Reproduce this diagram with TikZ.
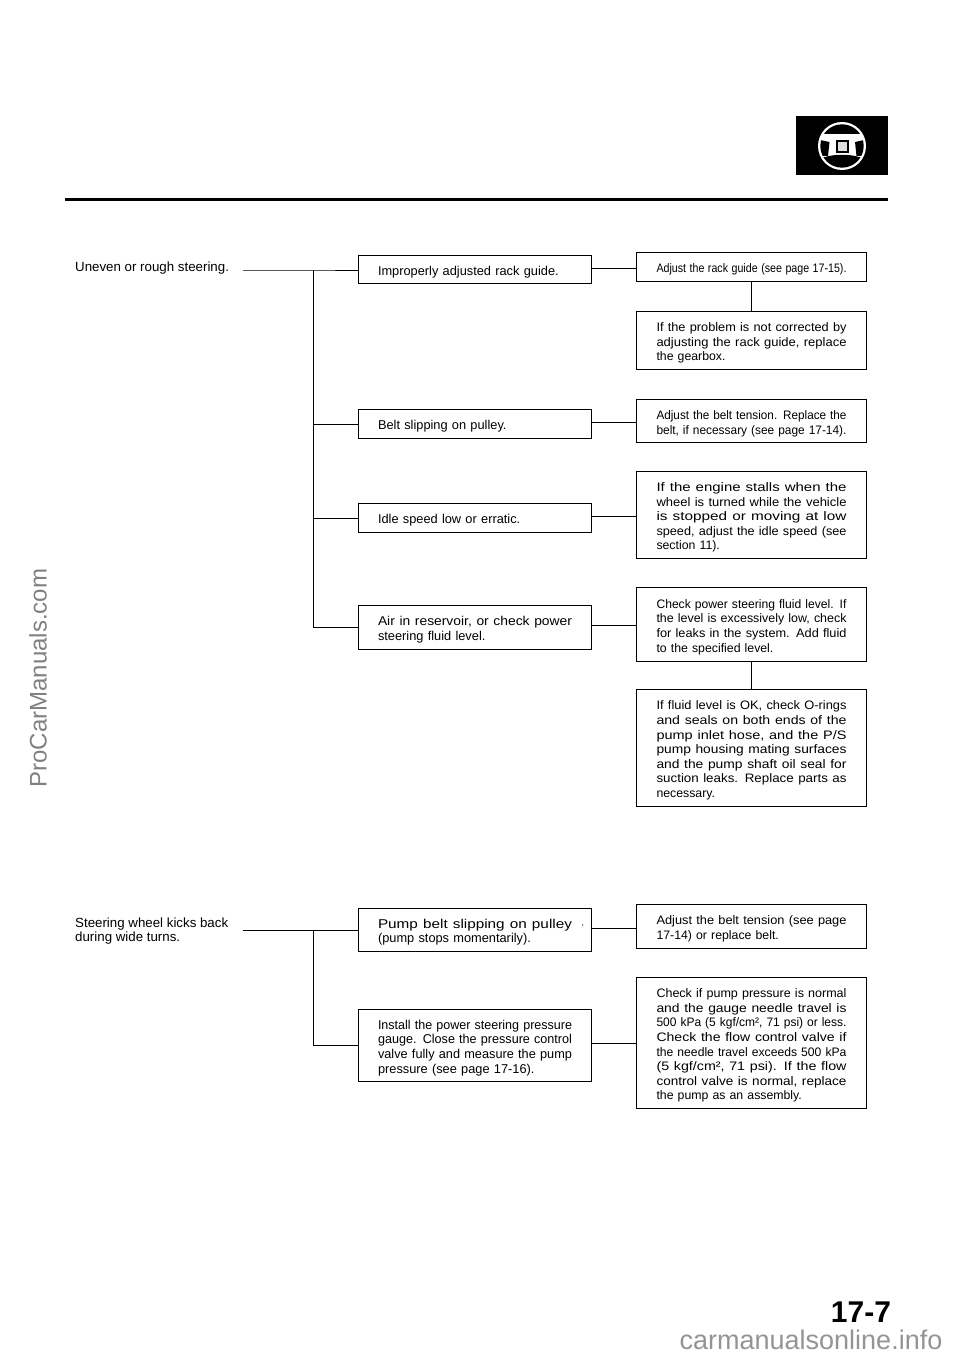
\documentclass[tikz,border=0pt]{standalone}
\usepackage{graphicx}
\usepackage{fontspec}
\setmainfont{Liberation Sans}
\newcommand{\fl}[1]{\resizebox{\hsize}{\height}{#1}}
\tikzset{
  boxtext/.style={draw,line width=1pt,align=left,inner sep=0pt,anchor=north west,execute at begin node={\rule{0pt}{14pt}}},
  causebox/.style={boxtext,minimum width=233pt,text width=194pt,font=\fontsize{12.8}{14.6}\selectfont},
  fixbox/.style={boxtext,minimum width=230pt,text width=190pt,font=\fontsize{12.3}{14.6}\selectfont},
  symptom/.style={align=left,inner sep=0pt,anchor=west,font=\fontsize{13.3}{14.8}\selectfont},
  link/.style={line width=1pt}
}
\begin{document}
\begin{tikzpicture}[x=1pt,y=-1pt]
  \useasboundingbox (0,0) rectangle (960,1356);
  % header
  \fill (796,116) rectangle (888,175);
  \fill[white] (842,146) circle (24);
  \begin{scope}
    \clip (842,146) circle (21.7);
    \fill (815,120) rectangle (869,134);
    \fill (815,172) -- (815,158) -- (825,157) .. controls (835,154) and (849,154) .. (859,157) -- (869,158) -- (869,172) -- cycle;
    \fill (820,140) -- (829.5,142) -- (828,156) -- (820,156) -- cycle;
    \fill (864,140) -- (855,142) -- (856.5,156) -- (864,156) -- cycle;
  \end{scope}
  \draw[line width=1.4pt,fill=black!12] (837,141) rectangle (848,152);
  \draw[line width=2.6pt] (65,199.5) -- (888,199.5);
  % first symptom
  \node[symptom] (uneven) at (75,268) {Uneven or rough steering.};
  \coordinate (unevenend) at (243,270);
  \node[causebox,minimum height=28pt] (rack) at (358,255) {Improperly adjusted rack guide.};
  \node[causebox,minimum height=29pt] (belt) at (358,409) {Belt slipping on pulley.};
  \node[causebox,minimum height=29pt] (idle) at (358,503) {Idle speed low or erratic.};
  \node[causebox,minimum height=44pt] (air) at (358,605) {\fl{Air in reservoir, or check power}\\steering fluid level.};
  \node[fixbox,minimum height=29pt] (fixrack) at (636,252) {\fl{Adjust the rack guide (see page 17-15).}};
  \node[fixbox,minimum height=58pt] (gearbox) at (636,311) {\fl{If the problem is not corrected by}\\\fl{adjusting the rack guide, replace}\\the gearbox.};
  \node[fixbox,minimum height=43pt] (fixbelt) at (636,399) {\fl{Adjust the belt tension. Replace the}\\\fl{belt, if necessary (see page 17-14).}};
  \node[fixbox,minimum height=87pt] (fixidle) at (636,471) {\fl{If the engine stalls when the}\\\fl{wheel is turned while the vehicle}\\\fl{is stopped or moving at low}\\\fl{speed, adjust the idle speed (see}\\section 11).};
  \node[fixbox,minimum height=74pt] (fixfluid) at (636,587) {\fl{Check power steering fluid level. If}\\\fl{the level is excessively low, check}\\\fl{for leaks in the system. Add fluid}\\to the specified level.};
  \node[fixbox,minimum height=117pt] (orings) at (636,689) {\fl{If fluid level is OK, check O-rings}\\\fl{and seals on both ends of the}\\\fl{pump inlet hose, and the P/S}\\\fl{pump housing mating surfaces}\\\fl{and the pump shaft oil seal for}\\\fl{suction leaks. Replace parts as}\\necessary.};
  \coordinate (trunk) at (313,270);
  \draw[link] (unevenend) -- (trunk) -- (rack.west |- trunk);
  \draw[link] (trunk) |- (belt.west);
  \draw[link] (trunk) |- (idle.west);
  \draw[link] (trunk) |- (air.west);
  \draw[link] ([yshift=1.5pt]rack.east) -- ([yshift=1.5pt]fixrack.west |- rack.east);
  \draw[link] ([yshift=1.5pt]belt.east) -- ([yshift=1.5pt]fixbelt.west |- belt.east);
  \draw[link] ([yshift=2pt]idle.east) -- ([yshift=2pt]fixidle.west |- idle.east);
  \draw[link] ([yshift=2pt]air.east) -- ([yshift=2pt]fixfluid.west |- air.east);
  \draw[link] (fixrack.south) -- (gearbox.north);
  \draw[link] (fixfluid.south) -- (orings.north);
  % second symptom
  \node[symptom] (kicks) at (75,931) {Steering wheel kicks back\\during wide turns.};
  \coordinate (kicksend) at (243,930);
  \node[causebox,minimum height=43pt] (pump) at (358,908) {\fl{Pump belt slipping on pulley}\rlap{\hspace{9pt}$\cdot$}\\(pump stops momentarily).};
  \node[causebox,minimum height=72pt] (gauge) at (358,1009) {\fl{Install the power steering pressure}\\\fl{gauge. Close the pressure control}\\\fl{valve fully and measure the pump}\\pressure (see page 17-16).};
  \node[fixbox,minimum height=44pt] (fixpump) at (636,904) {\fl{Adjust the belt tension (see page}\\17-14) or replace belt.};
  \node[fixbox,minimum height=131pt] (fixvalve) at (636,977) {\fl{Check if pump pressure is normal}\\\fl{and the gauge needle travel is}\\\fl{500 kPa (5 kgf/cm², 71 psi) or less.}\\\fl{Check the flow control valve if}\\\fl{the needle travel exceeds 500 kPa}\\\fl{(5 kgf/cm², 71 psi). If the flow}\\\fl{control valve is normal, replace}\\the pump as an assembly.};
  \coordinate (trunkb) at (313,930);
  \draw[link] (kicksend) -- (pump.west);
  \draw[link] (trunkb) |- (gauge.west);
  \draw[link] ([yshift=2pt]pump.east) -- ([yshift=2pt]fixpump.west |- pump.east);
  \draw[link] ([yshift=2pt]gauge.east) -- ([yshift=2pt]fixvalve.west |- gauge.east);
  % page marks
  \node[inner sep=0pt,font=\bfseries\fontsize{30}{30}\selectfont] (pageno) at (861,1312) {17-7};
  \node[inner sep=0pt,text=black!42,font=\fontsize{27}{27}\selectfont] (sitemark) at (811,1340) {carmanualsonline.info};
  \node[inner sep=0pt,text=black!50,rotate=90,font=\fontsize{24}{24}\selectfont] (brandmark) at (38,678) {ProCarManuals.com};
\end{tikzpicture}
\end{document}
